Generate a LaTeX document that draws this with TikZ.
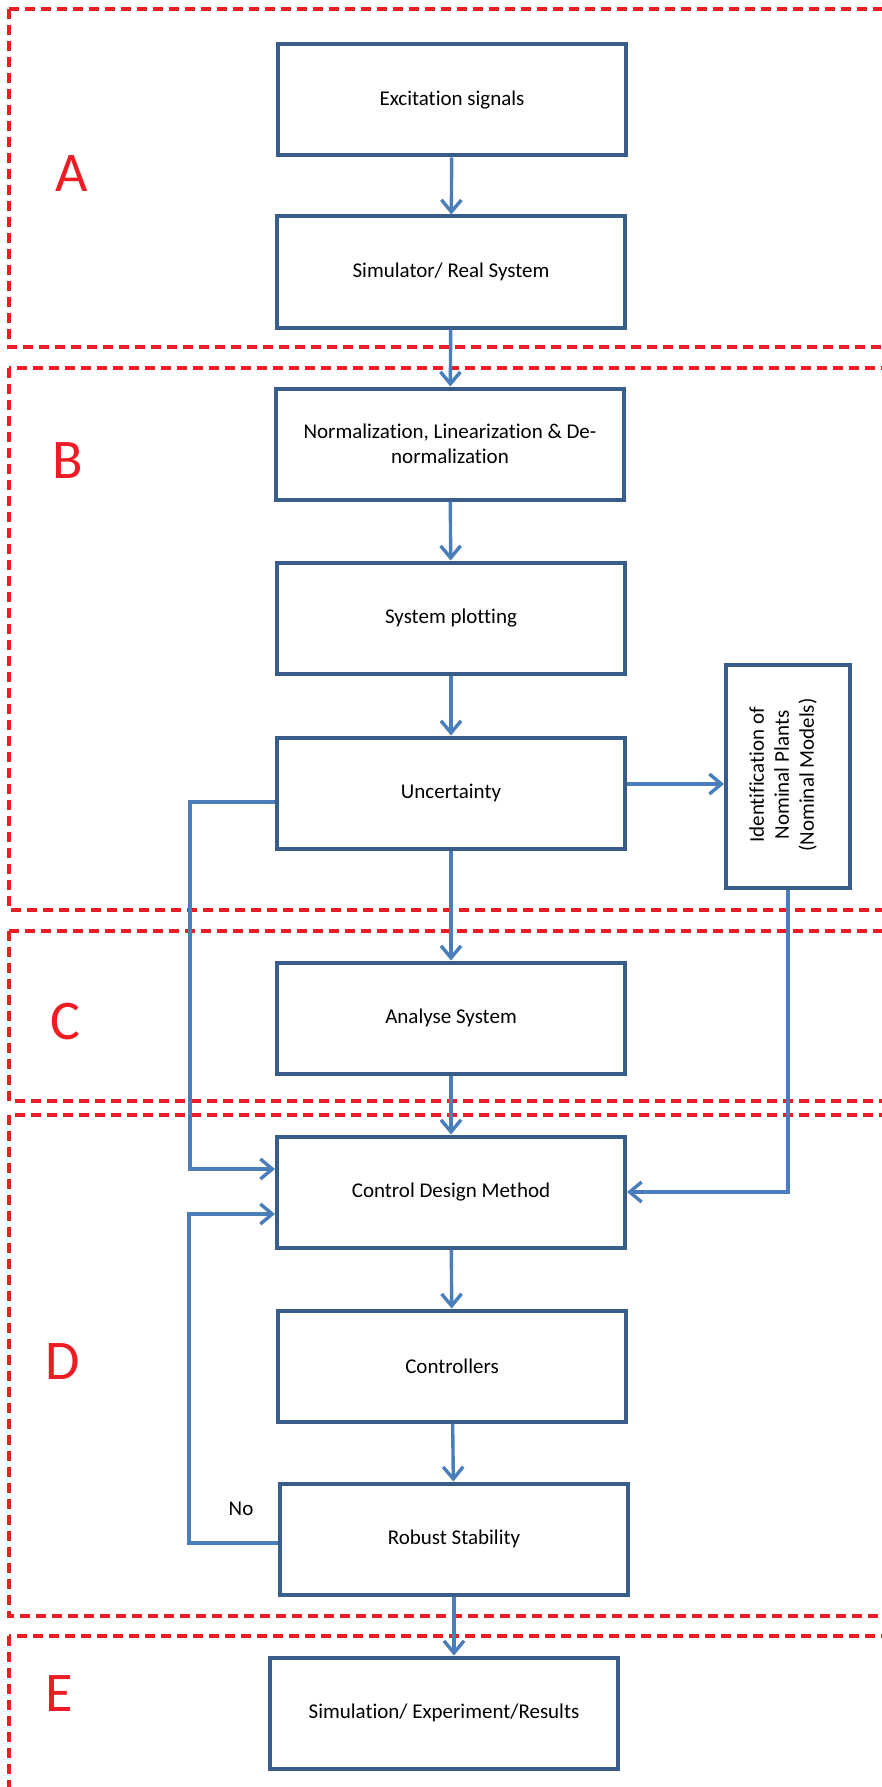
\documentclass[tikz,border=0pt]{standalone}
\usepackage{fontspec}
\setmainfont{Carlito}[RawFeature={-liga;-clig;-calt}]
\usetikzlibrary{arrows.meta}
\definecolor{boxblue}{HTML}{385D8A}
\definecolor{flowblue}{HTML}{4A7EBB}
\definecolor{regred}{HTML}{EE1C25}
\begin{document}
\begin{tikzpicture}[x=0.5pt,y=-0.5pt,
    block/.style={draw=boxblue,line width=2pt,minimum width=174pt,minimum height=55.5pt,inner sep=0pt,align=center,font=\fontsize{10.5}{12.5}\selectfont},
    sidebox/.style={block,minimum width=62pt,minimum height=111.5pt},
    flow/.style={draw=flowblue,line width=1.7pt,-{Straight Barb[length=6pt,width=10pt]}},
    region/.style={draw=regred,line width=1.8pt,dash pattern=on 5pt off 3pt},
    letter/.style={text=regred,font=\fontsize{28}{30}\selectfont},
    lbl/.style={font=\fontsize{10.5}{12}\selectfont}]
    \useasboundingbox (0,0) rectangle (882,1787);
    \clip (0,0) rectangle (882,1787);
    % dashed regions
    \draw[region] (9,9) rectangle (900,347);
    \draw[region] (9,368) rectangle (900,910);
    \draw[region] (9,931) rectangle (900,1101);
    \draw[region] (9,1115) rectangle (900,1616);
    \draw[region] (9,1636) rectangle (900,1810);
    \node[letter] (la) at (72,174) {A};
    \node[letter] (lb) at (68,461) {B};
    \node[letter] (lc) at (65,1022) {C};
    \node[letter] (ld) at (63,1362) {D};
    \node[letter] (le) at (59,1694) {E};
    % blocks
    \node[block] (exc) at (452,100) {Excitation signals};
    \node[block] (sim) at (451,272) {Simulator/ Real System};
    \node[block] (norm) at (450,444) {Normalization, Linearization \& De-\\normalization};
    \node[block] (plot) at (451,618) {System plotting};
    \node[block] (unc) at (451,793) {Uncertainty};
    \node[sidebox] (ident) at (788,776) {};
    \node[rotate=90,align=center,font=\fontsize{10.5}{12.5}\selectfont] (identtxt) at (783,775) {Identification of\\Nominal Plants\\(Nominal Models)};
    \node[block] (anal) at (451,1018) {Analyse System};
    \node[block] (cdm) at (451,1192) {Control Design Method};
    \node[block] (ctrl) at (452,1366) {Controllers};
    \node[block] (rob) at (454,1539) {Robust Stability};
    \node[block] (final) at (444,1713) {Simulation/ Experiment/Results};
    \node[lbl] (no) at (241,1509) {No};
    \coordinate (in1) at ([yshift=11.5pt]cdm.west);
    \coordinate (in2) at ([yshift=-11pt]cdm.west);
    % connectors
    \draw[flow] (exc) -- (sim);
    \draw[flow] (sim) -- (norm);
    \draw[flow] (norm) -- (plot);
    \draw[flow] (plot) -- (unc);
    \draw[flow] (unc) -- (anal);
    \draw[flow] (anal) -- (cdm);
    \draw[flow] (cdm) -- (ctrl);
    \draw[flow] (ctrl) -- (rob);
    \draw[flow] (rob.south) -- (rob.south |- final.north);
    \draw[flow] ([yshift=4.5pt]unc.east) -- ([yshift=4.5pt]unc.east -| ident.west);
    \draw[flow] ([yshift=-4.5pt]unc.west) -- ++(-42.5pt,0) |- (in1);
    \draw[flow] ([yshift=-2pt]rob.west) -- ++(-44.5pt,0) |- (in2);
    \draw[flow] (ident.south) |- (cdm.east);
\end{tikzpicture}
\end{document}
